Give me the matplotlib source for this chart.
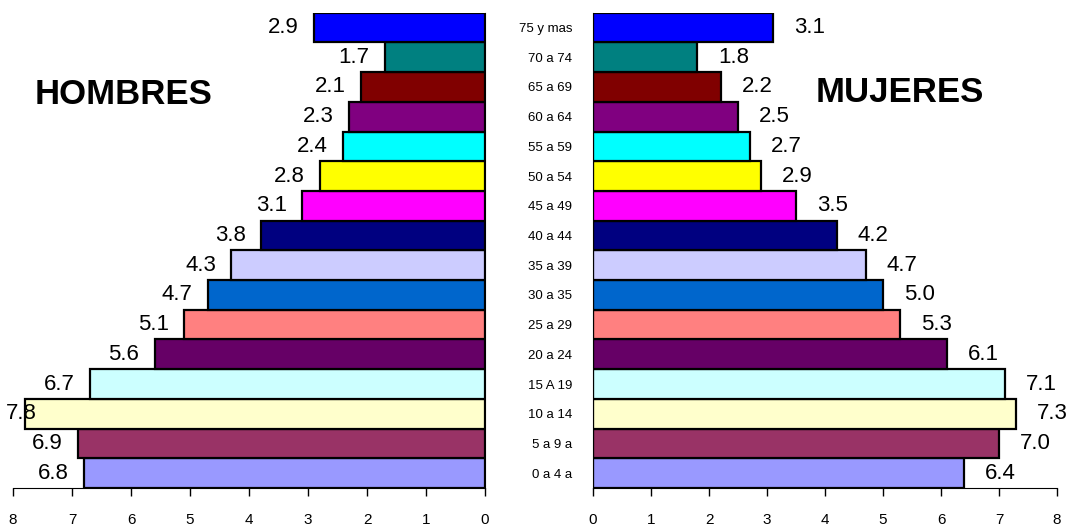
import matplotlib.pyplot as plt

plt.rcParams['font.family'] = ['Liberation Sans', 'DejaVu Sans']

# age groups, bottom to top
grupos = ['0 a 4 a', '5 a 9 a', '10 a 14', '15 A 19', '20 a 24', '25 a 29',
          '30 a 35', '35 a 39', '40 a 44', '45 a 49', '50 a 54', '55 a 59',
          '60 a 64', '65 a 69', '70 a 74', '75 y mas']
hombres = [6.8, 6.9, 7.8, 6.7, 5.6, 5.1, 4.7, 4.3, 3.8, 3.1, 2.8, 2.4, 2.3, 2.1, 1.7, 2.9]
mujeres = [6.4, 7.0, 7.3, 7.1, 6.1, 5.3, 5.0, 4.7, 4.2, 3.5, 2.9, 2.7, 2.5, 2.2, 1.8, 3.1]
colores = ['#9999FF', '#993366', '#FFFFCC', '#CCFFFF', '#660066', '#FF8080',
           '#0066CC', '#CCCCFF', '#000080', '#FF00FF', '#FFFF00', '#00FFFF',
           '#800080', '#800000', '#008080', '#0000FF']
ticks = [0, 1, 2, 3, 4, 5, 6, 7, 8]

W, H = 1068, 530
fig = plt.figure(figsize=(W / 100, H / 100), dpi=100)
bot = (H - 488) / H
hgt = (488 - 12.7) / H
axL = fig.add_axes([13 / W, bot, 472 / W, hgt])
axR = fig.add_axes([593 / W, bot, 464 / W, hgt])

y = list(range(len(grupos)))

for ax, vals, side in [(axL, hombres, 'L'), (axR, mujeres, 'R')]:
    ax.barh(y, vals, height=1.0, color=colores, edgecolor='black', linewidth=1.6, zorder=2)
    ax.set_xlim(0, 8)
    ax.set_ylim(-0.5, len(grupos) - 0.5)
    ax.set_xticks(ticks)
    ax.set_xticklabels([str(t) for t in ticks], fontsize=11)
    ax.tick_params(axis='x', direction='out', length=6, width=1, pad=12)
    ax.spines['top'].set_visible(False)
    for i, v in enumerate(vals):
        if side == 'L':
            if v > 7.5:
                ax.annotate(f'{v:.1f}', (8, i), xytext=(-5, 0), textcoords='offset points',
                            ha='left', va='center', fontsize=16, zorder=3, annotation_clip=False)
            else:
                ax.annotate(f'{v:.1f}', (v, i), xytext=(-11, 0), textcoords='offset points',
                            ha='right', va='center', fontsize=16, zorder=3)
        else:
            ax.annotate(f'{v:.1f}', (v, i), xytext=(15, 0), textcoords='offset points',
                        ha='left', va='center', fontsize=16, zorder=3, annotation_clip=False)

axL.invert_xaxis()
axL.spines['left'].set_visible(False)
axL.set_yticks([])
axR.spines['right'].set_visible(False)
axR.set_yticks(y)
axR.set_yticklabels(grupos, fontsize=9.5)
axR.tick_params(axis='y', length=0, pad=15)

fig.text(124 / W, 1 - 95 / H, 'HOMBRES', fontsize=25, fontweight='bold', ha='center', va='center')
fig.text(900 / W, 1 - 92 / H, 'MUJERES', fontsize=25, fontweight='bold', ha='center', va='center')

fig.savefig('out.png', dpi=100)
